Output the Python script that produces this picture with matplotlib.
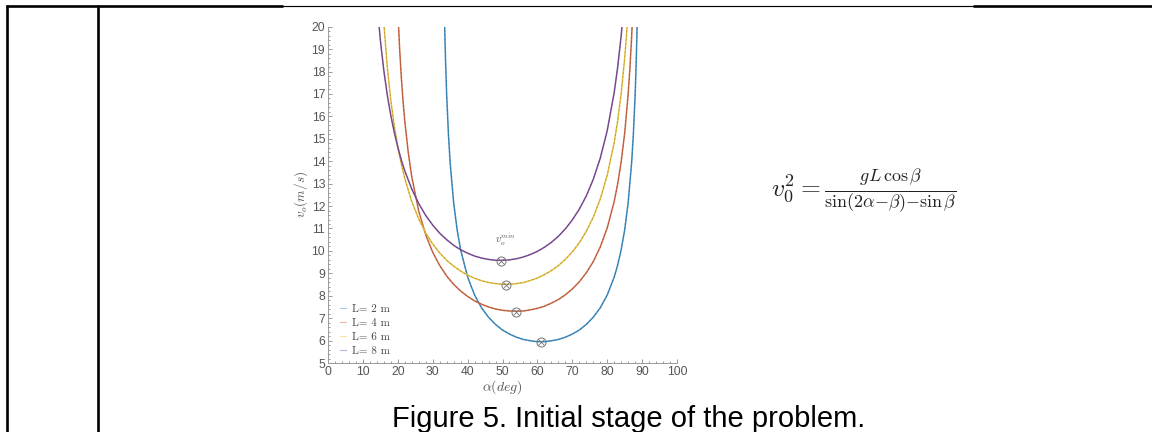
import matplotlib
matplotlib.use("Agg")

import matplotlib.pyplot as plt  # noqa: E402
from matplotlib.lines import Line2D  # noqa: E402
from matplotlib.ticker import MultipleLocator  # noqa: E402

plt.rcParams["mathtext.fontset"] = "cm"

# values: launch angle alpha (deg) -> v0 (m/s)
alpha_2 = [33.3, 33.5, 33.7, 34, 34.5, 35, 36, 37, 38, 40, 42, 44, 46, 48, 50,
           52, 54, 56, 58, 60, 62, 64, 66, 68, 70, 72, 74, 76, 78, 80, 82, 83,
           84, 85, 86, 87, 87.5, 88, 88.2, 88.5, 88.7]
v_2 = [20.97, 19.56, 18.39, 16.98, 15.23, 13.94, 12.15, 10.94, 10.05, 8.84,
       8.03, 7.46, 7.04, 6.72, 6.47, 6.29, 6.15, 6.05, 5.99, 5.95, 5.95, 5.99,
       6.05, 6.15, 6.29, 6.47, 6.72, 7.04, 7.46, 8.03, 8.83, 9.37, 10.05,
       10.93, 12.14, 13.93, 15.21, 16.95, 17.85, 19.53, 20.95]

alpha_4 = [20, 20.5, 21, 21.5, 22, 23, 24, 26, 28, 30, 32, 34, 36, 38, 40, 42,
           44, 46, 48, 50, 52, 54, 56, 58, 60, 62, 64, 66, 68, 70, 72, 74, 76,
           78, 80, 82, 83, 84, 85, 86, 86.5, 87, 87.5]
v_4 = [20.77, 19.08, 17.76, 16.69, 15.79, 14.38, 13.31, 11.77, 10.72, 9.94,
       9.35, 8.88, 8.51, 8.21, 7.97, 7.77, 7.62, 7.50, 7.41, 7.35, 7.32, 7.31,
       7.32, 7.37, 7.44, 7.53, 7.67, 7.83, 8.04, 8.30, 8.62, 9.02, 9.52, 10.17,
       11.02, 12.20, 12.99, 13.97, 15.24, 16.98, 18.12, 19.54, 21.36]

alpha_6 = [16, 17, 18, 19, 20, 21, 22, 24, 26, 28, 30, 32, 34, 36, 38, 40, 42,
           44, 46, 48, 50, 52, 54, 56, 58, 60, 62, 64, 66, 68, 70, 72, 74, 76,
           78, 80, 82, 83, 84, 85, 85.5, 86]
v_6 = [20.15, 18.18, 16.71, 15.56, 14.63, 13.87, 13.23, 12.20, 11.42, 10.80,
       10.31, 9.91, 9.58, 9.32, 9.10, 8.92, 8.78, 8.67, 8.59, 8.54, 8.51, 8.51,
       8.54, 8.59, 8.68, 8.79, 8.94, 9.12, 9.34, 9.62, 9.95, 10.36, 10.87,
       11.50, 12.31, 13.37, 14.83, 15.80, 17.01, 18.58, 19.56, 20.71]

alpha_8 = [14, 15, 16, 17, 18, 19, 20, 21, 22, 24, 26, 28, 30, 32, 34, 36, 38,
           40, 42, 44, 46, 48, 50, 52, 54, 56, 58, 60, 62, 64, 66, 68, 70, 72,
           74, 76, 78, 80, 82, 83, 84, 84.5]
v_8 = [21.16, 19.40, 18.04, 16.94, 16.04, 15.28, 14.63, 14.06, 13.57, 12.76,
       12.11, 11.58, 11.15, 10.79, 10.50, 10.25, 10.05, 9.90, 9.77, 9.68, 9.62,
       9.58, 9.58, 9.60, 9.65, 9.73, 9.84, 9.98, 10.16, 10.38, 10.65, 10.98,
       11.38, 11.86, 12.45, 13.19, 14.13, 15.36, 17.06, 18.19, 19.59, 20.43]

# minimum-speed points marked on each curve
min_alpha = [61.1, 53.8, 50.9, 49.6]
min_v = [5.93, 7.27, 8.49, 9.56]

labels = ["L= 2 m", "L= 4 m", "L= 6 m", "L= 8 m"]
colors = ["#3c8ec4", "#d06a44", "#e8c23c", "#7e4d98"]

W, H = 1152, 432
fig = plt.figure(figsize=(W / 100, H / 100), dpi=100)


def fx(px):
    return px / W


def fy(py):
    return 1 - py / H


# table borders around the figure cell
thick, thin = 1.9, 0.85
fig.add_artist(Line2D([fx(6.3), fx(283)], [fy(5.7), fy(5.7)], color="black",
                      lw=thick, transform=fig.transFigure,
                      solid_capstyle="butt"))
fig.add_artist(Line2D([fx(283), fx(973)], [fy(5.5), fy(5.5)], color="black",
                      lw=thin, transform=fig.transFigure))
fig.add_artist(Line2D([fx(973), fx(W)], [fy(5.7), fy(5.7)], color="black",
                      lw=thick, transform=fig.transFigure,
                      solid_capstyle="butt"))
for xv in (7.4, 97.7):
    fig.add_artist(Line2D([fx(xv), fx(xv)], [fy(4.8), fy(H)], color="black",
                          lw=thick, transform=fig.transFigure,
                          solid_capstyle="butt"))

ax = fig.add_axes([fx(328), fy(363), fx(677) - fx(328), fy(26.7) - fy(363)])

series = [(alpha_2, v_2), (alpha_4, v_4), (alpha_6, v_6), (alpha_8, v_8)]
handles = []
for (xs, ys), col, lab in zip(series, colors, labels):
    ax.plot(xs, ys, color=col, lw=1.1, solid_capstyle="round")
    ax.plot(xs, ys, color="#333333", lw=0.5, alpha=0.35, dashes=(3, 3))
    handles.append(Line2D([], [], color=col, lw=0.8, alpha=0.45, label=lab))

ax.plot(min_alpha, min_v, "o", ms=6.5, mfc="none", mec="#777777", mew=0.7)
ax.plot(min_alpha, min_v, "x", ms=3.8, mec="#777777", mew=0.6)
ax.text(50.9, 10.5, r"$v_o^{min}$", fontsize=7.5, color="#555555",
        ha="center", va="center")

ax.set_xlim(0, 100)
ax.set_ylim(5, 20)
ax.xaxis.set_major_locator(MultipleLocator(10))
ax.xaxis.set_minor_locator(MultipleLocator(2))
ax.yaxis.set_major_locator(MultipleLocator(1))
ax.yaxis.set_minor_locator(MultipleLocator(0.2))
for side in ("top", "right"):
    ax.spines[side].set_visible(False)
for side in ("left", "bottom"):
    ax.spines[side].set_color("#9a9a9a")
    ax.spines[side].set_linewidth(0.7)
ax.tick_params(which="both", direction="in", color="#8a8a8a", width=0.6)
ax.tick_params(which="major", length=3, labelsize=8.8, labelcolor="#555555",
               pad=2)
ax.tick_params(which="minor", length=1.5)
for lbl in ax.get_xticklabels() + ax.get_yticklabels():
    lbl.set_fontfamily("Liberation Sans")

ax.set_xlabel(r"$\alpha(deg)$", fontsize=10, color="#555555", labelpad=0)
ax.set_ylabel(r"$v_o(m/s)$", fontsize=9.5, color="#555555", labelpad=1)

ax.legend(handles=handles, loc="lower left", bbox_to_anchor=(0.035, 0.02),
          frameon=False, handlelength=0.5, handletextpad=0.6,
          labelspacing=0.38, borderpad=0, borderaxespad=0,
          prop={"family": "cmr10", "size": 8}, labelcolor="#444444")

fig.text(fx(771), fy(192),
         r"$v_0^2 = \frac{gL\,\cos\beta}{\sin(2\alpha{-}\beta){-}\sin\beta}$",
         fontsize=18.5, color="#222222", ha="left", va="center")

fig.text(fx(629), fy(427), "Figure 5. Initial stage of the problem.",
         fontsize=21, family="Liberation Sans", color="black",
         ha="center", va="baseline")

fig.savefig("out.png", dpi=100)
